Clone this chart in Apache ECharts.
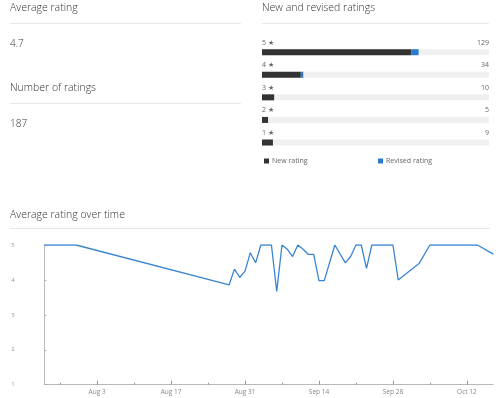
<!DOCTYPE html>
<html>
<head>
<meta charset="utf-8">
<script src="https://cdn.jsdelivr.net/npm/echarts@6/dist/echarts.min.js"></script>
<style>
  html, body { margin: 0; padding: 0; background: #fff; }
  #main { width: 500px; height: 398px; }
</style>
</head>
<body>
<div id="main"></div>
<script>
var FONT = '"Open Sans", "Noto Sans", sans-serif';

// ------------------ data ------------------
var averageRating = '4.7';
var totalRatings = 187;

var starLabels = ['5 ★', '4 ★', '3 ★', '2 ★', '1 ★'];
var starCounts = [129, 34, 10, 5, 9];
var newRatings = [123, 32, 10, 5, 9];
var revisedRatings = [6, 2, 0, 0, 0];

var ratingDates = ['2019-07-24', '2019-07-30', '2019-08-28', '2019-08-29', '2019-08-30', '2019-08-31',
    '2019-09-01', '2019-09-02', '2019-09-03', '2019-09-05', '2019-09-06', '2019-09-07', '2019-09-08',
    '2019-09-09', '2019-09-10', '2019-09-11', '2019-09-12', '2019-09-13', '2019-09-14', '2019-09-15',
    '2019-09-17', '2019-09-19', '2019-09-20', '2019-09-21', '2019-09-22', '2019-09-23', '2019-09-24',
    '2019-09-28', '2019-09-29', '2019-10-03', '2019-10-05', '2019-10-14', '2019-10-17'];
var ratingValues = [5, 5, 3.86, 4.31, 4.07, 4.25,
    4.78, 4.49, 5, 5, 3.67, 5, 4.88,
    4.67, 5, 4.88, 4.73, 4.73, 3.98, 3.98,
    5, 4.49, 4.67, 5, 5, 4.33, 5,
    5, 4.0, 4.48, 5, 5, 4.74];

var axisStart = '2019-07-24';
var axisEnd = '2019-10-17';
var majorTicks = ['2019-08-03', '2019-08-17', '2019-08-31', '2019-09-14', '2019-09-28', '2019-10-12'];
var minorTicks = ['2019-07-27', '2019-08-10', '2019-08-24', '2019-09-07', '2019-09-21', '2019-10-05'];
var monthNames = ['Jan', 'Feb', 'Mar', 'Apr', 'May', 'Jun', 'Jul', 'Aug', 'Sep', 'Oct', 'Nov', 'Dec'];

function ts(s) {
    var p = s.split('-');
    return Date.UTC(+p[0], +p[1] - 1, +p[2]);
}

// ------------------ chart ------------------
var myChart = echarts.init(document.getElementById('main'));

var lineData = ratingDates.map(function (d, i) { return [ts(d), ratingValues[i]]; });

function headText(x, y, text, size) {
    return {
        type: 'text', left: x, top: y,
        style: { text: text, fill: '#333', font: '300 ' + size + 'px ' + FONT }
    };
}
function rule(x1, x2, y) {
    return {
        type: 'line', shape: { x1: x1, y1: y, x2: x2, y2: y },
        style: { stroke: '#e8e8e8', lineWidth: 1 }
    };
}

var option = {
    animation: false,
    textStyle: { fontFamily: FONT },
    graphic: [
        headText(10, 2.5, 'Average rating', 10.5),
        rule(10, 241, 23.5),
        headText(10, 39, averageRating, 10),
        headText(10, 83, 'Number of ratings', 10.5),
        rule(10, 241, 103.5),
        headText(10, 119, String(totalRatings), 10),
        headText(262, 2.5, 'New and revised ratings', 10.5),
        rule(262, 489, 23.5),
        headText(10, 210, 'Average rating over time', 10.5),
        rule(10, 490, 228.5)
    ],
    legend: [
        {
            left: 259, top: 152.5, itemWidth: 5, itemHeight: 5, icon: 'rect',
            data: ['New rating'], selectedMode: false,
            textStyle: { fontSize: 7, color: '#666', padding: [0, 0, 0, -2] }
        },
        {
            left: 373, top: 152.5, itemWidth: 5, itemHeight: 5, icon: 'rect',
            data: ['Revised rating'], selectedMode: false,
            textStyle: { fontSize: 7, color: '#666', padding: [0, 0, 0, -2] }
        }
    ],
    grid: [
        { left: 262, right: 11, top: 40.9, bottom: 244.2 },
        { left: 44.3, right: 6.7, top: 245, bottom: 13.3 },
        { left: 44.3, right: 6.7, top: 245, bottom: 13.3 }
    ],
    xAxis: [
        { gridIndex: 0, type: 'value', min: 0, max: totalRatings, show: false },
        {
            gridIndex: 1, type: 'value', min: ts(axisStart), max: ts(axisEnd),
            axisLine: { lineStyle: { color: '#b8b8b8' } },
            axisTick: { inside: true, length: 4, lineStyle: { color: '#999' }, customValues: majorTicks.map(ts) },
            axisLabel: {
                customValues: majorTicks.map(ts), fontSize: 6.5, color: '#888', margin: 4,
                formatter: function (v) {
                    var d = new Date(v);
                    return monthNames[d.getUTCMonth()] + ' ' + d.getUTCDate();
                }
            },
            splitLine: { show: false }
        },
        {
            gridIndex: 2, type: 'value', min: ts(axisStart), max: ts(axisEnd),
            axisLine: { show: false },
            axisTick: { inside: true, length: 2, lineStyle: { color: '#999' }, customValues: minorTicks.map(ts) },
            axisLabel: { show: false },
            splitLine: { show: false }
        }
    ],
    yAxis: [
        { gridIndex: 0, type: 'category', data: starLabels, inverse: true, show: false },
        {
            gridIndex: 1, type: 'value', min: 1, max: 5, interval: 1,
            axisLine: { show: true, lineStyle: { color: '#b8b8b8' } },
            axisTick: { show: true, inside: true, length: 2, lineStyle: { color: '#aaa' } },
            axisLabel: { fontSize: 6, color: '#999', align: 'left', margin: 33 },
            splitLine: { show: false }
        },
        { gridIndex: 2, type: 'value', min: 1, max: 5, show: false }
    ],
    series: [
        {
            name: 'New rating', type: 'bar', xAxisIndex: 0, yAxisIndex: 0, stack: 'r',
            barWidth: 6, barGap: '-100%', data: newRatings,
            itemStyle: { color: '#333333' },
            showBackground: true, backgroundStyle: { color: '#f0f0f0' }
        },
        {
            name: 'Revised rating', type: 'bar', xAxisIndex: 0, yAxisIndex: 0, stack: 'r',
            barWidth: 6, data: revisedRatings,
            itemStyle: { color: '#2a7ad0' }
        },
        {
            name: 'starLabel', type: 'bar', xAxisIndex: 0, yAxisIndex: 0, stack: 'l1',
            barWidth: 6, barGap: '-100%', silent: true,
            data: starLabels.map(function () { return totalRatings; }),
            itemStyle: { color: 'rgba(0,0,0,0)' },
            label: {
                show: true, position: 'insideLeft', distance: 0, offset: [0, -9.5],
                fontSize: 7, color: '#666',
                formatter: function (p) { return starLabels[p.dataIndex]; }
            }
        },
        {
            name: 'countLabel', type: 'bar', xAxisIndex: 0, yAxisIndex: 0, stack: 'l2',
            barWidth: 6, barGap: '-100%', silent: true,
            data: starLabels.map(function () { return totalRatings; }),
            itemStyle: { color: 'rgba(0,0,0,0)' },
            label: {
                show: true, position: 'insideRight', distance: 0, offset: [0, -9.5],
                fontSize: 7, color: '#666',
                formatter: function (p) { return String(starCounts[p.dataIndex]); }
            }
        },
        {
            name: 'Average rating', type: 'line', xAxisIndex: 1, yAxisIndex: 1,
            data: lineData, showSymbol: false,
            lineStyle: { color: '#3a85d0', width: 1.3 },
            itemStyle: { color: '#3a85d0' }
        }
    ]
};
myChart.setOption(option);
</script>
</body>
</html>
